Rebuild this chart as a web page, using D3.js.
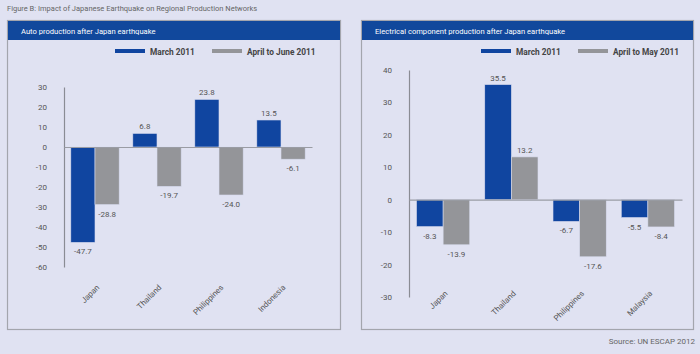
<!DOCTYPE html>
<html>
<head>
  <meta charset="utf-8" />
  <title>Figure B</title>
  <script src="https://cdnjs.cloudflare.com/ajax/libs/d3/7.8.5/d3.min.js"></script>
  <style>
    body { margin: 0; background: #e0e2f2; }
    svg { display: block; font-family: Roboto, "Open Sans", sans-serif; }
  </style>
</head>
<body>
  <div id="chartArea"></div>
  <script>
    // data
    var autoCountries = ['Japan', 'Thailand', 'Philippines', 'Indonesia'];
    var autoMarch = [-47.7, 6.8, 23.8, 13.5];
    var autoAprJun = [-28.8, -19.7, -24.0, -6.1];
    var autoTicks = [30, 20, 10, 0, -10, -20, -30, -40, -50, -60];

    var elecCountries = ['Japan', 'Thailand', 'Philippines', 'Malaysia'];
    var elecMarch = [-8.3, 35.5, -6.7, -5.5];
    var elecAprMay = [-13.9, 13.2, -17.6, -8.4];
    var elecTicks = [40, 30, 20, 10, 0, -10, -20, -30];

    var blue = '#1045a0', grey = '#949599';

    var svg = d3.select('#chartArea').append('svg')
      .attr('width', 700)
      .attr('height', 354);

    svg.append('text')
      .attr('x', 7).attr('y', 11)
      .attr('font-size', 7.5)
      .attr('fill', '#666')
      .text('Figure B: Impact of Japanese Earthquake on Regional Production Networks');

    svg.append('text')
      .attr('x', 695).attr('y', 344)
      .attr('text-anchor', 'end')
      .attr('font-size', 8)
      .attr('fill', '#666')
      .text('Source: UN ESCAP 2012');

    function drawPanel(p) {
      var g = svg.append('g');

      g.append('rect')
        .attr('x', p.x0 + 0.5).attr('y', 20.5)
        .attr('width', p.x1 - p.x0).attr('height', 309)
        .attr('fill', 'none')
        .attr('stroke', '#a3a5ad')
        .attr('stroke-width', 1.2);

      g.append('rect')
        .attr('x', p.x0 + 1).attr('y', 21)
        .attr('width', p.x1 - p.x0 - 1).attr('height', 19)
        .attr('fill', '#11489c');

      g.append('text')
        .attr('x', p.x0 + 14).attr('y', 33.5)
        .attr('font-size', 7.6)
        .attr('fill', '#fff')
        .text(p.title);

      // legend
      var legend = [
        { label: 'March 2011', color: blue, x: p.legX[0] },
        { label: p.label2, color: grey, x: p.legX[1] }
      ];
      legend.forEach(d => {
        g.append('rect')
          .attr('x', d.x).attr('y', 49)
          .attr('width', 30).attr('height', 4)
          .attr('fill', d.color);
        g.append('text')
          .attr('x', d.x + 35).attr('y', 54.5)
          .attr('font-size', 8.3)
          .attr('font-weight', 'bold')
          .attr('fill', '#444')
          .text(d.label);
      });

      var x = d3.scaleBand()
        .domain(p.countries)
        .range([p.left, p.right])
        .paddingInner(0.22)
        .paddingOuter(0.11);

      var x1 = d3.scaleBand()
        .domain([0, 1])
        .range([0, x.bandwidth()]);

      var y = d3.scaleLinear()
        .domain(p.domain)
        .range([p.bottom, p.top]);

      // y axis
      var yAxis = d3.axisLeft(y)
        .tickValues(p.ticks)
        .tickSize(0)
        .tickPadding(17)
        .tickFormat(d => String(d));

      var ya = g.append('g')
        .attr('transform', 'translate(' + p.left + ',0)')
        .call(yAxis);
      ya.select('.domain').attr('stroke', '#8a8c94').attr('stroke-width', 1.2);
      ya.selectAll('text')
        .attr('font-size', 8)
        .attr('fill', '#555')
        .attr('font-family', 'Roboto, sans-serif');

      var series = [p.march, p.later];
      var colors = [blue, grey];

      series.forEach((vals, si) => {
        var data = vals.map((v, i) => ({ c: p.countries[i], v: v }));
        g.selectAll(null)
          .data(data)
          .join('rect')
          .attr('x', d => x(d.c) + x1(si))
          .attr('y', d => y(Math.max(0, d.v)))
          .attr('width', x1.bandwidth())
          .attr('height', d => Math.abs(y(d.v) - y(0)))
          .attr('fill', colors[si])
          .attr('stroke', '#d8dbee')
          .attr('stroke-width', 0.6);

        g.selectAll(null)
          .data(data)
          .join('text')
          .attr('x', d => x(d.c) + x1(si) + x1.bandwidth() / 2)
          .attr('y', d => d.v >= 0 ? y(d.v) - 4 : y(d.v) + 12)
          .attr('text-anchor', 'middle')
          .attr('font-size', 8)
          .attr('fill', '#555')
          .text(d => d.v.toFixed(1));
      });

      // zero line
      var xAxis = d3.axisBottom(x).tickSize(0).tickFormat('');
      var xa = g.append('g')
        .attr('transform', 'translate(0,' + y(0) + ')')
        .call(xAxis);
      xa.select('.domain').attr('stroke', '#9a9ca4').attr('stroke-width', 1.2);

      // category labels
      g.selectAll(null)
        .data(p.countries)
        .join('text')
        .attr('transform', d => 'translate(' + (x(d) + x.bandwidth() / 2 + 5) + ',' + p.labelY + ') rotate(-45)')
        .attr('text-anchor', 'end')
        .attr('font-size', 8)
        .attr('fill', '#555')
        .text(d => d);
    }

    drawPanel({
      x0: 7, x1: 340,
      title: 'Auto production after Japan earthquake',
      label2: 'April to June 2011',
      legX: [115, 212],
      countries: autoCountries,
      march: autoMarch,
      later: autoAprJun,
      ticks: autoTicks,
      domain: [-60, 30],
      left: 64, right: 312,
      top: 87, bottom: 267,
      labelY: 288
    });

    drawPanel({
      x0: 361, x1: 693,
      title: 'Electrical component production after Japan earthquake',
      label2: 'April to May 2011',
      legX: [481, 578],
      countries: elecCountries,
      march: elecMarch,
      later: elecAprMay,
      ticks: elecTicks,
      domain: [-30, 40],
      left: 409, right: 682,
      top: 70, bottom: 297,
      labelY: 294
    });
  </script>
</body>
</html>
